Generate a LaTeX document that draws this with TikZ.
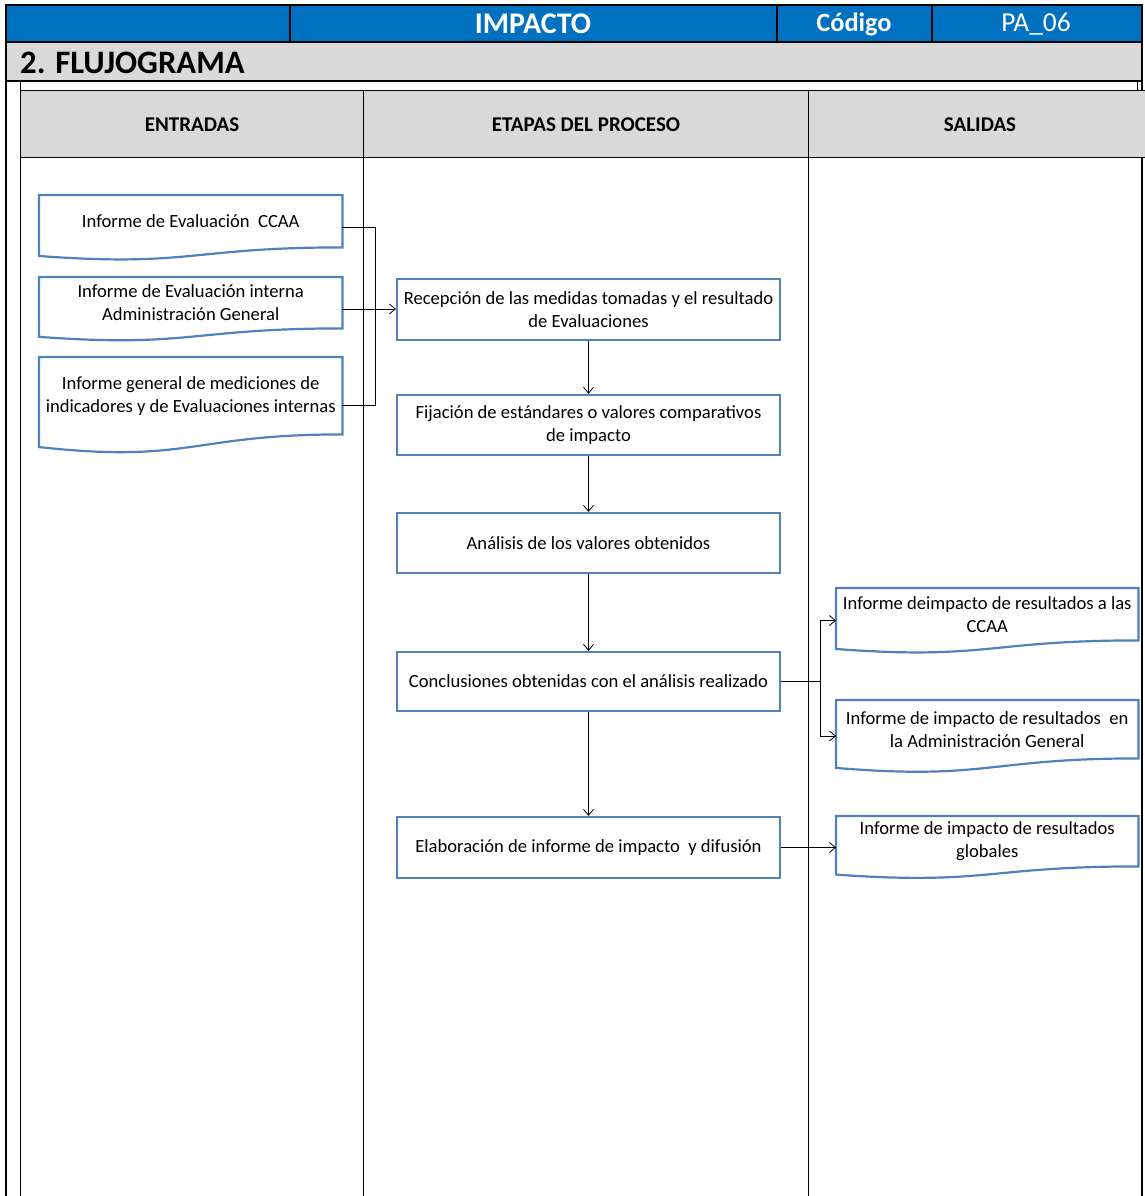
\documentclass[tikz,border=0pt]{standalone}
\usepackage{fontspec}
\setmainfont{Carlito}
\usetikzlibrary{calc,arrows.meta}
\definecolor{hdrblue}{HTML}{0070C0}
\definecolor{hdrgrey}{HTML}{D9D9D9}
\definecolor{boxblue}{HTML}{4F81BD}
% document outline: flat top, wavy bottom; #1 node (text area), #2 full height
\newcommand\docoutline[2]{%
  \draw[docline] (#1.north west) -- (#1.north east) -- (#1.south east)
    .. controls (#1.south) and ($(#1.south)+(0,0.305*#2)$) ..
    ($(#1.south west)+(0,0.132*#2)$) -- cycle;}
\begin{document}
\begin{tikzpicture}[x=1pt,y=-1pt,
  frame/.style={line width=2.4pt},
  rule/.style={line width=0.9pt},
  bodyfont/.style={font=\fontsize{18.6}{23}\selectfont},
  stepbox/.style={draw=boxblue, line width=2.2pt, minimum width=383pt,
    inner sep=1pt, align=center, bodyfont},
  doctext/.style={anchor=north west, inner sep=1pt, align=center, bodyfont},
  docline/.style={draw=boxblue, line width=2.2pt},
  conn/.style={line width=0.8pt},
  arr/.style={conn, -{Straight Barb[length=6pt,width=10pt]}},
  colhead/.style={font=\bfseries\fontsize{21}{24}\selectfont}
]
\useasboundingbox (0,0) rectangle (1145,1196);

% ---- title bands ----
\fill[hdrblue] (5,5) rectangle (1142,42);
\fill[hdrgrey] (5,42) rectangle (1142,81);
\draw[frame] (5,5) -- (1142,5);
\draw[frame] (5,42) -- (1142,42);
\draw[frame] (5,81) -- (1142,81);
\draw[frame] (6,4) -- (6,1196);
\draw[frame] (1142,4) -- (1142,1196);
\draw[frame] (290,5) -- (290,42);
\draw[frame] (777,5) -- (777,42);
\draw[frame] (932,5) -- (932,42);
\node[text=white, font=\bfseries\fontsize{30}{34}\selectfont] (ttl) at (533,24) {IMPACTO};
\node[text=white, font=\bfseries\fontsize{26.4}{30}\selectfont] (cod) at (854,24) {Código};
\node[text=white, font=\fontsize{27.4}{30}\selectfont] (cid) at (1036,24) {PA\_06};
\node[anchor=west, font=\bfseries\fontsize{32.7}{36}\selectfont, inner sep=0pt] (sec) at (20,63) {2. FLUJOGRAMA};

% ---- swimlane table ----
\fill[hdrgrey] (20,90) rectangle (1145,157);
\draw[rule] (20,90) -- (1145,90);
\draw[rule] (20,157) -- (1145,157);
\draw[rule] (20,81) -- (20,1196);
\draw[rule] (1137,81) -- (1137,90);
\draw[rule] (363,90) -- (363,1196);
\draw[rule] (808,90) -- (808,1196);
\node[colhead] (hin) at (192,125) {ENTRADAS};
\node[colhead] (hpr) at (586,125) {ETAPAS DEL PROCESO};
\node[colhead] (hout) at (980,125) {SALIDAS};

% ---- inputs ----
\node[doctext, minimum width=303pt, minimum height=52pt] (d1) at (39,195)
  {Informe de Evaluación~~CCAA};
\node[doctext, minimum width=303pt, minimum height=51pt] (d2) at (39,277)
  {Informe de Evaluación interna\\Administración General};
\node[doctext, minimum width=303pt, minimum height=77pt] (d3) at (39,357)
  {Informe general de mediciones de\\indicadores y de Evaluaciones internas};
\docoutline{d1}{65}
\docoutline{d2}{64}
\docoutline{d3}{96}

% ---- process steps ----
\node[stepbox, minimum height=61pt] (s1) at (588.5,309.5)
  {Recepción de las medidas tomadas y el resultado\\de Evaluaciones};
\node[stepbox, minimum height=60pt] (s2) at (588.5,425)
  {Fijación de estándares o valores comparativos\\de impacto};
\node[stepbox, minimum height=60pt] (s3) at (588.5,543)
  {Análisis de los valores obtenidos};
\node[stepbox, minimum height=59pt] (s4) at (588.5,681.5)
  {Conclusiones obtenidas con el análisis realizado};
\node[stepbox, minimum height=61pt] (s5) at (588.5,847.5)
  {Elaboración de informe de impacto~ y difusión};

% ---- outputs ----
\node[doctext, minimum width=302pt, minimum height=52pt] (r1) at (836,588)
  {Informe deimpacto de resultados a las\\CCAA};
\node[doctext, minimum width=302pt, minimum height=58pt] (r2) at (836,700)
  {Informe de impacto de resultados~ en\\la Administración General};
\node[doctext, minimum width=302pt, minimum height=50pt] (r3) at (836,816)
  {Informe de impacto de resultados\\globales};
\docoutline{r1}{65}
\docoutline{r2}{72}
\docoutline{r3}{62}

% ---- connection points on the document shapes ----
\coordinate (d1p) at ($(d1.north east)+(0,32.5)$);
\coordinate (d2p) at ($(d2.north east)+(0,32)$);
\coordinate (d3p) at ($(d3.north east)+(0,48)$);
\coordinate (r1p) at ($(r1.north west)+(0,32.5)$);
\coordinate (r2p) at ($(r2.north west)+(0,36)$);
\coordinate (r3p) at ($(r3.north west)+(0,31)$);
\coordinate (jin) at (375,0);
\coordinate (jout) at (820,0);

% ---- connectors ----
\draw[conn] (d1p) -- (d1p -| jin) -- (d3p -| jin) -- (d3p);
\draw[arr] (d2p) -- (s1.west |- d2p);
\draw[arr] (s1) -- (s2);
\draw[arr] (s2) -- (s3);
\draw[arr] (s3) -- (s4);
\draw[arr] (s4) -- (s5);
\draw[arr] (s4.east) -- (s4.east -| jout) -- (r1p -| jout) -- (r1p);
\draw[arr] (s4.east) -- (s4.east -| jout) -- (r2p -| jout) -- (r2p);
\draw[arr] (s5.east) -- (s5.east -| r3p);
\end{tikzpicture}
\end{document}
